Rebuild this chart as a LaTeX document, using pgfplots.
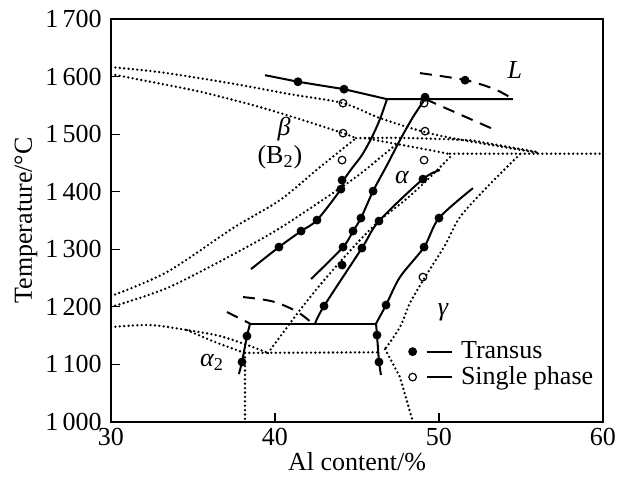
\documentclass[border=0pt]{standalone}
\usepackage{fontspec}
\setmainfont{Liberation Serif}
\usepackage{pgfplots}
\pgfplotsset{compat=1.18}
\newcommand{\tf}{\fontsize{13}{15}\selectfont}
\newcommand{\thou}[1]{1\,#1}
\begin{document}
\tf
\begin{tikzpicture}
\begin{axis}[
  name=ax,
  scale only axis, width=246pt, height=201.5pt,
  xmin=30, xmax=60, ymin=1000, ymax=1700,
  xtick={30,40,50,60}, xticklabels={30,40,50,60},
  ytick={1000,1100,1200,1300,1400,1500,1600,1700},
  yticklabels={\thou{000},\thou{100},\thou{200},\thou{300},\thou{400},\thou{500},\thou{600},\thou{700}},
  tick align=inside, tick pos=left, major tick length=4.5pt,
  minor tick num=0,
  axis line style={line width=0.6pt},
  every tick/.style={line width=0.6pt, black},
  xticklabel style={font=\tf, inner sep=0pt, yshift=-3pt},
  yticklabel style={font=\tf, inner sep=0pt, xshift=-4.5pt},
  xlabel={Al content/\%}, ylabel={Temperature/°C},
  every axis x label/.style={at={(axis description cs:0.5,-0.099)}, anchor=center, font=\tf},
  every axis y label/.style={at={(axis description cs:-0.173,0.5)}, anchor=center, rotate=90, font=\tf},
  legend style={at={(axis cs:48.1,1148)}, anchor=north west, draw=none, fill=none, inner sep=0pt, font=\tf, cells={anchor=west}, row sep=-2pt},
  sol/.style={black, line width=1pt, mark=none, forget plot},
  dotl/.style={black, line width=1.3pt, line cap=round, dash pattern=on 0pt off 2.2pt, mark=none, forget plot},
  dsh/.style={black, line width=1pt, dash pattern=on 6pt off 4pt, mark=none, forget plot},
  clip=false,
]
% ---------- dotted lines ----------
\addplot[dotl, smooth] coordinates {(30,1616.3) (32.99,1607.6) (37.26,1588.5) (40.91,1569.4) (44.15,1553.8) (46.40,1527.8) (49.15,1503.5) (51.46,1489.6) (56.16,1467)};
\addplot[dotl, smooth] coordinates {(30,1604.2) (35.0,1576.4) (37.26,1560.8) (39.09,1546.9) (41.52,1526.0) (44.15,1501.7) (44.94,1493)};
\addplot[dotl, smooth] coordinates {(30,1218.7) (33.41,1260.4) (37.44,1336.8) (40.30,1385.4) (42.74,1442.7) (44.94,1493)};
\addplot[dotl, smooth] coordinates {(44.94,1493) (47.62,1493.5) (51.71,1489.6) (52.93,1484.4) (56.04,1468.7)};
\addplot[dotl, smooth] coordinates {(30,1199.7) (33.41,1232.6) (37.26,1288.2) (40.30,1336.8) (44.15,1409.7) (45.49,1437.5) (46.59,1463.5) (47.50,1484.4)};
\addplot[dotl] coordinates {(45.5,1493) (47.62,1481.8) (49.45,1472.2) (50.67,1465.3)};
\addplot[dotl] coordinates {(50.67,1466) (60,1466)};
\addplot[dotl, smooth] coordinates {(39.57,1119.8) (40.61,1159.7) (41.52,1194.4) (42.74,1237.8) (43.96,1277.8) (45.18,1316.0) (46.40,1350.7) (47.93,1385.4) (49.27,1420.1) (50.79,1463.5)};
\addplot[dotl, smooth] coordinates {(54.94,1465.3) (52.93,1408.0) (51.28,1355.9) (50.37,1307.3) (49.15,1251.7) (48.23,1206.6) (47.62,1164.9) (46.71,1126.7)};
\addplot[dotl] coordinates {(46.71,1126.7) (47.62,1078.1) (48.41,1000)};
\addplot[dotl, smooth] coordinates {(30,1164.9) (32.38,1168.4) (34.63,1159.7) (36.65,1149.3) (38.48,1131.9) (39.57,1119.8)};
\addplot[dotl, smooth] coordinates {(34.63,1159.7) (36.34,1138.9) (38.17,1119.8)};
\addplot[dotl] coordinates {(38.17,1120) (46.22,1121)};
\addplot[dotl] coordinates {(38.17,1120) (38.17,1000)};
% ---------- dashed lines ----------
\addplot[dsh, smooth] coordinates {(48.84,1606) (51.59,1594) (53.4,1578) (54.51,1561)};
\addplot[dsh] coordinates {(49.15,1561) (53.60,1505)};
\addplot[dsh] coordinates {(37.07,1191) (38.48,1171)};
\addplot[dsh, smooth] coordinates {(38.05,1217) (39.09,1213.5) (40.0,1208.3) (40.91,1197.9) (41.65,1185.8) (42.26,1171.9)};
% ---------- solid lines ----------
\addplot[sol] coordinates {(39.39,1602.4) (41.40,1591.0) (44.21,1578.1) (46.83,1560.8) (54.51,1560.8)};
\addplot[sol, smooth] coordinates {(38.54,1265.6) (40.24,1303.8) (41.59,1331.6) (42.56,1350.7) (44.02,1404.5) (44.15,1418.4) (44.70,1441.0) (45.30,1463.5) (45.91,1494.8) (46.40,1526.0) (46.83,1560.8)};
\addplot[sol, smooth] coordinates {(42.20,1248.3) (44.15,1303.8) (44.76,1331.6) (45.24,1354.2) (45.98,1401.0) (46.83,1446.2) (47.62,1489.6) (48.41,1529.5) (49.15,1561)};
\addplot[sol, smooth] coordinates {(42.44,1171) (42.99,1201.4) (45.30,1302.1) (46.34,1349.0) (49.02,1421.9) (50.06,1437.5)};
\addplot[sol, smooth] coordinates {(46.16,1171) (46.77,1203.1) (47.62,1251.7) (49.09,1303.8) (50.00,1354.2) (52.07,1406.2)};
\addplot[sol] coordinates {(46.16,1171) (46.22,1151.0) (46.34,1104.2) (46.46,1081.6)};
\addplot[sol] coordinates {(38.48,1171) (46.16,1171)};
\addplot[sol] coordinates {(38.48,1171) (38.29,1149.3) (37.99,1104.2) (37.80,1083.3)};
% ---------- markers (with legend) ----------
\addplot[only marks, mark=*, mark size=2pt, black,
  legend image code/.code={\fill[black] (2pt,0pt) circle (2pt); \draw[black, line width=1pt, solid] (9pt,0pt) -- (21.5pt,0pt); \path (24pt,0pt);}] coordinates {
(41.40,1591.0) (44.21,1578.1) (49.15,1564.2) (51.59,1593.7)
(40.24,1303.8) (41.59,1331.6) (42.56,1350.7) (44.02,1404.5) (44.09,1420.1)
(44.15,1303.8) (44.76,1331.6) (45.24,1354.2) (45.98,1401.0) (44.09,1272.6)
(42.99,1201.4) (45.30,1302.1) (46.34,1349.0) (49.02,1421.9)
(46.77,1203.1) (49.09,1303.8) (50.00,1354.2)
(46.22,1151.0) (46.34,1104.2)
(38.29,1149.3) (37.99,1104.2)};
\addlegendentry{Transus}
\addplot[only marks, mark=o, mark size=1.9pt, black, mark options={line width=0.6pt, fill=white},
  legend image code/.code={\draw[black, line width=0.6pt, fill=white] (2pt,0pt) circle (1.9pt); \draw[black, line width=1pt, solid] (9pt,0pt) -- (21.5pt,0pt); \path (24pt,0pt);}] coordinates {
(44.15,1553.8) (44.15,1501.7) (44.09,1454.9) (49.09,1553.8) (49.15,1505.2) (49.09,1454.9) (49.02,1251.7)};
\addlegendentry{Single phase}
% ---------- labels ----------
\node[font=\tf\itshape] at (axis cs:54.63,1611) {L};
\node[font=\tf\itshape] at (axis cs:40.55,1508.7) {β};
\node[font=\tf] at (axis cs:40.30,1460) {(B\textsubscript{2})};
\node[font=\tf\itshape] at (axis cs:47.74,1425) {α};
\node[font=\tf\itshape] at (axis cs:50.24,1191) {γ};
\node[font=\tf\itshape] at (axis cs:36.16,1104) {α\textsubscript{\upshape 2}};
\end{axis}
\path ([xshift=-55.5pt,yshift=-26.5pt]ax.south west) rectangle ([xshift=9.5pt,yshift=9.5pt]ax.north east);
\end{tikzpicture}
\end{document}
